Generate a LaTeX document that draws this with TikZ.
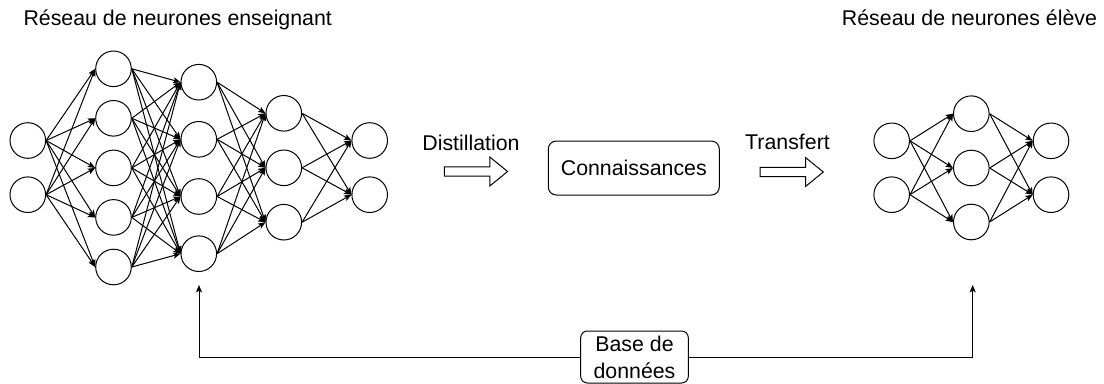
\documentclass[tikz,border=0pt]{standalone}
\usepackage{fontspec}
\setmainfont{Liberation Sans}
\usetikzlibrary{arrows.meta}
\begin{document}
\begin{tikzpicture}[x=0.75pt,y=-0.75pt,
  neuron/.style={circle,draw,line width=0.75pt,fill=white,minimum size=26.7pt,inner sep=0pt},
  link/.style={line width=0.75pt,-{Stealth[length=5.5pt,width=4.5pt,inset=1.2pt]}},
  txt/.style={font=\fontsize{16}{20.25}\selectfont,inner sep=0pt},
  roundbox/.style={draw,line width=0.75pt,rounded corners=6pt,fill=white,
    font=\fontsize{16}{20.25}\selectfont,align=center,inner sep=0pt},
  hollowarrow/.style={draw,line width=0.75pt,fill=white},
  fatarrow/.pic={\draw[hollowarrow] (0,-4.7) -- (45.5,-4.7) -- (45.5,-14.5)
      -- (63.3,0) -- (45.5,14.5) -- (45.5,4.7) -- (0,4.7) -- cycle;}
]
\useasboundingbox (0,0) rectangle (1104,383);

% titles
\node[txt,anchor=base west] (teacher) at (23.3,25) {Réseau de neurones enseignant};
\node[txt,anchor=base west] (student) at (841.7,25) {Réseau de neurones élève};

% teacher network
\foreach \y [count=\i] in {140.5,194.7} \node[neuron] (t1-\i) at (27.8,\y) {};
\foreach \y [count=\i] in {68.8,118.3,167.9,217.4,267} \node[neuron] (t2-\i) at (113.5,\y) {};
\foreach \y [count=\i] in {82.2,139.3,196.5,253.7} \node[neuron] (t3-\i) at (198.8,\y) {};
\foreach \y [count=\i] in {113.3,167.8,222.2} \node[neuron] (t4-\i) at (283.8,\y) {};
\foreach \y [count=\i] in {140.5,194.7} \node[neuron] (t5-\i) at (369.7,\y) {};

\foreach \i in {1,2} \foreach \j in {1,...,5} \draw[link] (t1-\i.east) -- (t2-\j.west);
\foreach \i in {1,...,5} \foreach \j in {1,...,4} \draw[link] (t2-\i.east) -- (t3-\j.west);
\foreach \i in {1,...,4} \foreach \j in {1,2,3} \draw[link] (t3-\i.east) -- (t4-\j.west);
\foreach \i in {1,2,3} \foreach \j in {1,2} \draw[link] (t4-\i.east) -- (t5-\j.west);

% student network
\foreach \y [count=\i] in {140.8,194.7} \node[neuron] (s1-\i) at (891.7,\y) {};
\foreach \y [count=\i] in {113.7,168,222} \node[neuron] (s2-\i) at (971.3,\y) {};
\foreach \y [count=\i] in {140.8,194.7} \node[neuron] (s3-\i) at (1051,\y) {};

\foreach \i in {1,2} \foreach \j in {1,2,3} \draw[link] (s1-\i.east) -- (s2-\j.west);
\foreach \i in {1,2,3} \foreach \j in {1,2} \draw[link] (s2-\i.east) -- (s3-\j.west);

% distillation and transfer
\node[txt,anchor=base] (distil) at (471,150) {Distillation};
\pic at (444.3,171.5) {fatarrow};
\node[roundbox,minimum width=128.25pt,minimum height=40.5pt] (know) at (633.8,168) {Connaissances};
\node[txt,anchor=base] (transf) at (787.5,149.3) {Transfert};
\pic at (760,172) {fatarrow};

% data set feeding both networks
\coordinate (tin) at (199,285);
\coordinate (sin) at (972.7,285);
\node[roundbox,rounded corners=5pt,minimum width=80.7pt,minimum height=39pt] (db) at (634.5,357) {Base de\\données};
\draw[link] (db.west) -| (tin);
\draw[link] (db.east) -| (sin);
\end{tikzpicture}
\end{document}
